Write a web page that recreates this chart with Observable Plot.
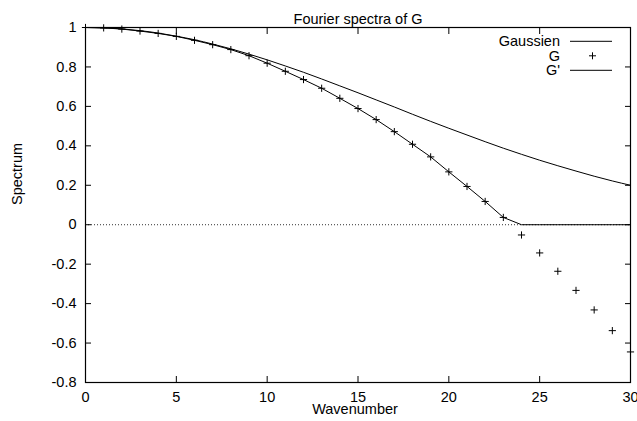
<!DOCTYPE html>
<html>
<head>
<meta charset="utf-8">
<script src="https://cdn.jsdelivr.net/npm/d3@7"></script>
<script src="https://cdn.jsdelivr.net/npm/@observablehq/plot@0.6"></script>
<style>
  html, body { margin: 0; padding: 0; background: #fff; }
  svg { display: block; }
</style>
</head>
<body>
<div id="chart"></div>
<script>
// ---- data ----
const title = "Fourier spectra of G";
const xLabel = "Wavenumber";
const yLabel = "Spectrum";
const wavenumber = [0,1,2,3,4,5,6,7,8,9,10,11,12,13,14,15,16,17,18,19,20,21,22,23,24,25,26,27,28,29,30];
const gaussien = [1,0.998,0.993,0.984,0.972,0.956,0.938,0.916,0.892,0.865,0.836,0.805,0.773,0.739,0.704,0.669,0.633,0.597,0.560,0.524,0.489,0.455,0.421,0.388,0.357,0.327,0.299,0.272,0.246,0.222,0.200];
const gValues = [1,0.998,0.992,0.982,0.970,0.955,0.935,0.913,0.888,0.857,0.819,0.778,0.736,0.692,0.641,0.589,0.533,0.472,0.408,0.344,0.268,0.194,0.118,0.037,-0.052,-0.143,-0.236,-0.333,-0.432,-0.537,-0.645];
const gPrime = [1,0.998,0.992,0.982,0.970,0.955,0.935,0.913,0.888,0.857,0.819,0.778,0.736,0.692,0.641,0.589,0.533,0.472,0.408,0.344,0.268,0.194,0.118,0.037,0,0,0,0,0,0,0];
const seriesNames = ["Gaussien", "G", "G'"];
const xTicks = [0,5,10,15,20,25,30];
const yTicks = [-0.8,-0.6,-0.4,-0.2,0,0.2,0.4,0.6,0.8,1];

// ---- build tables ----
const gaussTable = wavenumber.map((k, i) => ({k, v: gaussien[i]}));
const gTable = wavenumber.map((k, i) => ({k, v: gValues[i]}));
const gpTable = wavenumber.map((k, i) => ({k, v: gPrime[i]}));

// thin "+" symbol like gnuplot's point type 1
const plusSymbol = {
  draw(ctx, size) {
    const r = Math.sqrt(size / Math.PI);
    ctx.moveTo(-r, 0); ctx.lineTo(r, 0);
    ctx.moveTo(0, -r); ctx.lineTo(0, r);
  }
};

const FONT = "'Liberation Sans', Arial, Helvetica, sans-serif";
const FS = 14.5;

// legend as a custom render mark
function legend(index, scales, values, dims) {
  const g = d3.create("svg:g")
    .attr("font-family", FONT)
    .attr("font-size", FS)
    .attr("fill", "black");
  const right = dims.width - dims.marginRight;
  const top = dims.marginTop;
  seriesNames.forEach((name, i) => {
    const y = top + 14.3 + i * 14.5;
    g.append("text")
      .attr("x", right - 70).attr("y", y)
      .attr("text-anchor", "end")
      .attr("dy", "0.35em")
      .text(name);
    if (name === "G") {
      g.append("path")
        .attr("d", `M${right - 41},${y}h7M${right - 37.5},${y - 3.5}v7`)
        .attr("stroke", "black").attr("fill", "none");
    } else {
      g.append("line")
        .attr("x1", right - 60).attr("x2", right - 18)
        .attr("y1", y).attr("y2", y)
        .attr("stroke", "black");
    }
  });
  return g.node();
}

const fmt = d => String(d);

const chart = Plot.plot({
  width: 637,
  height: 421,
  marginLeft: 85,
  marginRight: 7,
  marginTop: 27,
  marginBottom: 39,
  style: {fontFamily: FONT, fontSize: FS + "px", background: "white", color: "black", overflow: "visible"},
  x: {domain: [0, 30]},
  y: {domain: [-0.8, 1]},
  marks: [
    // zero line (dotted)
    Plot.ruleY([0], {stroke: "#333", strokeDasharray: "1,2", strokeWidth: 1}),
    // tick labels
    Plot.axisX({ticks: xTicks, tickSize: 0, tickPadding: 9, tickFormat: fmt, label: null, fontSize: FS}),
    Plot.axisY({ticks: yTicks, tickSize: 0, tickPadding: 9, tickFormat: fmt, label: null, fontSize: FS}),
    // inward tick marks on all four sides
    Plot.axisX({anchor: "bottom", ticks: xTicks, tickSize: 6, dy: -6, tickFormat: () => "", label: null}),
    Plot.axisX({anchor: "top", ticks: xTicks, tickSize: 6, dy: 6, tickFormat: () => "", label: null}),
    Plot.axisY({anchor: "left", ticks: yTicks, tickSize: 6, dx: 6, tickFormat: () => "", label: null}),
    Plot.axisY({anchor: "right", ticks: yTicks, tickSize: 6, dx: -6, tickFormat: () => "", label: null}),
    // series
    Plot.line(gaussTable, {x: "k", y: "v", stroke: "black", strokeWidth: 1, curve: "natural"}),
    Plot.line(gpTable, {x: "k", y: "v", stroke: "black", strokeWidth: 1}),
    Plot.dot(gTable, {x: "k", y: "v", symbol: plusSymbol, r: 3.6, stroke: "black", fill: "none", strokeWidth: 1}),
    Plot.frame({stroke: "black", strokeWidth: 1.2}),
    // titles
    Plot.text([title], {frameAnchor: "top", dy: -14, fontSize: FS}),
    Plot.text([xLabel], {frameAnchor: "bottom", dy: 31, dx: -3, fontSize: FS}),
    Plot.text([yLabel], {frameAnchor: "left", dx: -68, rotate: -90, fontSize: FS}),
    legend
  ]
});
document.getElementById("chart").append(chart);
</script>
</body>
</html>
